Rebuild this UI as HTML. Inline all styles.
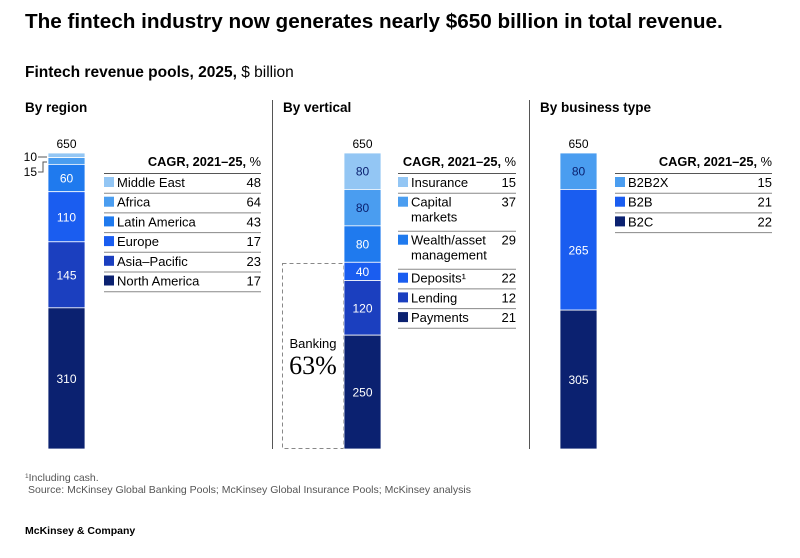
<!DOCTYPE html>
<html><head><meta charset="utf-8">
<style>
body{margin:0;background:#fff;width:800px;height:553px;overflow:hidden;font-family:"Liberation Sans",sans-serif;}
svg text{font-family:"Liberation Sans",sans-serif;}
</style></head>
<body>
<svg id="c" width="800" height="553" xmlns="http://www.w3.org/2000/svg">
<text x="25" y="28" font-size="20.7" font-weight="bold" fill="#000">The fintech industry now generates nearly $650 billion in total revenue.</text>
<text x="25" y="77" font-size="15.5" fill="#000"><tspan font-weight="bold">Fintech revenue pools, 2025,</tspan> $ billion</text>
<text x="25" y="112" font-size="13.5" font-weight="bold">By region</text>
<text x="283" y="112" font-size="13.5" font-weight="bold">By vertical</text>
<text x="540" y="112" font-size="13.5" font-weight="bold">By business type</text>
<line x1="272.5" y1="100" x2="272.5" y2="449" stroke="#555" stroke-width="1"/>
<line x1="529.5" y1="100" x2="529.5" y2="449" stroke="#555" stroke-width="1"/>
<rect x="282.5" y="263.5" width="61" height="185" fill="none" stroke="#888" stroke-dasharray="4,3"/>
<text x="313" y="348" font-size="13" text-anchor="middle">Banking</text>
<text x="313" y="374" font-size="26" text-anchor="middle" style="font-family:'Liberation Serif',serif">63%</text>
<line x1="38" y1="157" x2="47" y2="157" stroke="#555"/>
<path d="M38 172 H43 V162 H47" fill="none" stroke="#555"/>
<text x="37" y="161" font-size="12" text-anchor="end">10</text>
<text x="37" y="176" font-size="12" text-anchor="end">15</text>
<text x="25" y="481" font-size="10.5" fill="#555"><tspan font-size="6.5" dy="-3">1</tspan><tspan dy="3">Including cash.</tspan></text>
<text x="28" y="493" font-size="10.5" fill="#555">Source: McKinsey Global Banking Pools; McKinsey Global Insurance Pools; McKinsey analysis</text>
<text x="25" y="534" font-size="10.5" font-weight="bold">McKinsey &amp; Company</text>
<g id="g"></g>
</svg>
<script>
// data
const regionCats=["Middle East","Africa","Latin America","Europe","Asia–Pacific","North America"];
const regionVals=[10,15,60,110,145,310];
const regionCagr=[48,64,43,17,23,17];
const verticalCats=["Insurance","Capital markets","Wealth/asset management","Deposits¹","Lending","Payments"];
const verticalVals=[80,80,80,40,120,250];
const verticalCagr=[15,37,29,22,12,21];
const businessCats=["B2B2X","B2B","B2C"];
const businessVals=[80,265,305];
const businessCagr=[15,21,22];
const totals=[650,650,650];

const NS="http://www.w3.org/2000/svg";
const g=document.getElementById('g');
function el(t,a,txt){const e=document.createElementNS(NS,t);for(const k in a)e.setAttribute(k,a[k]);if(txt!=null)e.textContent=txt;g.appendChild(e);return e;}
const base=449, top0=153, maxV=650;
const y=v=>base-(v/maxV)*(base-top0);
const h=v=>(v/maxV)*(base-top0);
const regionColors=["#93c6f4","#4a9df0","#1f7aee","#1a5df0","#1b3fbf","#0b2170"];
const verticalColors=["#93c6f4","#4a9df0","#1f7aee","#1a5df0","#1b3fbf","#0b2170"];
const businessColors=["#4a9df0","#1a5df0","#0b2170"];
const darkText=["#93c6f4","#4a9df0"];

function bar(x,vals,colors,total,nm){
  let t=el('text',{x:x+18.5,y:y(total)-5,'font-size':12,'text-anchor':'middle'},total);
  
  
  let cum=0;const sum=vals.reduce((a,b)=>a+b,0);
  vals.forEach((v,i)=>{
    const yt=y(sum-cum);
    const r=el('rect',{x:x,y:yt,width:37,height:h(v),fill:colors[i],stroke:'#fff','stroke-width':0.8});
    
    
    if(v>=30){
      const fill=darkText.includes(colors[i])?'#0b2170':'#fff';
      const l=el('text',{x:x+18.5,y:yt+h(v)/2+4.5,'font-size':12,'text-anchor':'middle',fill:fill},v);
      
      
    }
    cum+=v;
  });
}
bar(48,regionVals,regionColors,totals[0],'region');
bar(344,verticalVals,verticalColors,totals[1],'vertical');
bar(560,businessVals,businessColors,totals[2],'business');

function legend(x1,x2,cats,cagr,colors,nm,lineRows){
  let hd=el('text',{x:x2,y:166,'font-size':12.8,'text-anchor':'end'});
  hd.innerHTML='<tspan font-weight="bold">CAGR, 2021–25,</tspan> %';
  
  
  let yy=173;
  let ln=el('line',{x1:x1,x2:x2,y1:yy+0.5,y2:yy+0.5,stroke:'#555'});
  
  
  cats.forEach((c,i)=>{
    const lines=lineRows[i];
    const sq=el('rect',{x:x1,y:yy+4,width:10,height:10,fill:colors[i]});
    
    
    lines.forEach((s,k)=>{
      const t=el('text',{x:x1+13,y:yy+14+k*15,'font-size':13},s);
      
      
    });
    const v=el('text',{x:x2,y:yy+14,'font-size':13,'text-anchor':'end'},cagr[i]);
    
    
    yy+=lines.length==1?19.7:38;
    const l2=el('line',{x1:x1,x2:x2,y1:yy+0.5,y2:yy+0.5,stroke:'#888'});
    
    
  });
}
legend(104,261,regionCats,regionCagr,regionColors,'region',regionCats.map(c=>[c]));
legend(398,516,verticalCats,verticalCagr,verticalColors,'vertical',[["Insurance"],["Capital","markets"],["Wealth/asset","management"],["Deposits¹"],["Lending"],["Payments"]]);
legend(615,772,businessCats,businessCagr,businessColors,'business',businessCats.map(c=>[c]));
</script>
</body></html>
